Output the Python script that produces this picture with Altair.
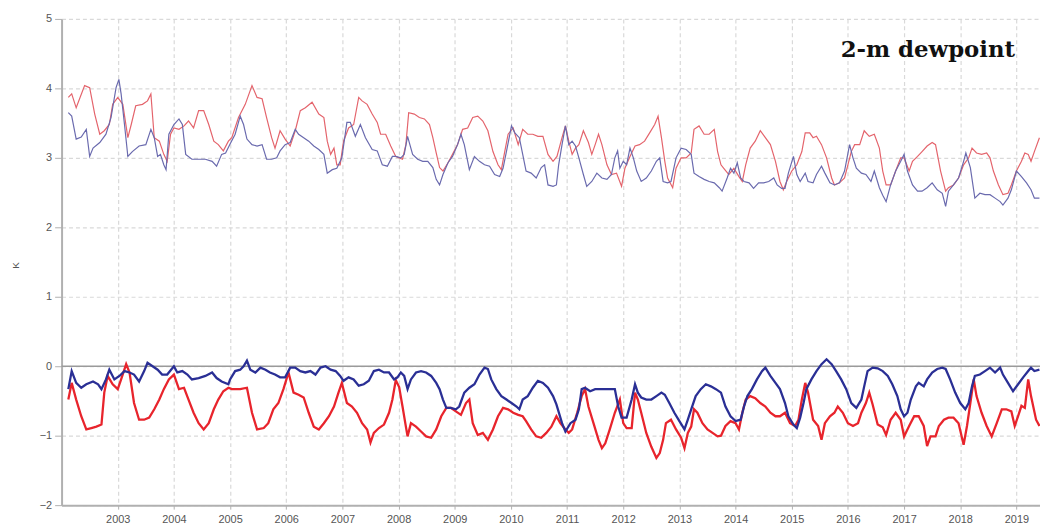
import altair as alt
import pandas as pd

# ---------------- data ----------------
year_ticks = list(range(2003, 2020))
y_ticks = [-2, -1, 0, 1, 2, 3, 4, 5]
title_text = ["2-m dewpoint"]

upper_red = [
    (2002.12, 3.87), (2002.18, 3.92), (2002.26, 3.72), (2002.41, 4.04), (2002.50, 4.01),
    (2002.59, 3.63), (2002.68, 3.34), (2002.76, 3.39), (2002.85, 3.48), (2002.91, 3.77),
    (2003.00, 3.87), (2003.09, 3.77), (2003.18, 3.29), (2003.24, 3.48), (2003.32, 3.75),
    (2003.44, 3.77), (2003.53, 3.82), (2003.59, 3.92), (2003.65, 3.29), (2003.74, 3.24),
    (2003.82, 3.05), (2003.88, 2.95), (2003.94, 3.34), (2004.00, 3.43), (2004.09, 3.41),
    (2004.18, 3.46), (2004.26, 3.53), (2004.35, 3.43), (2004.44, 3.68), (2004.53, 3.68),
    (2004.62, 3.48), (2004.71, 3.24), (2004.79, 3.19), (2004.88, 3.10), (2004.97, 3.24),
    (2005.03, 3.29), (2005.15, 3.58), (2005.27, 3.77), (2005.39, 4.04), (2005.48, 3.87),
    (2005.57, 3.85), (2005.65, 3.58), (2005.74, 3.29), (2005.80, 3.14), (2005.89, 3.39),
    (2005.98, 3.27), (2006.07, 3.17), (2006.16, 3.39), (2006.25, 3.68), (2006.34, 3.72),
    (2006.46, 3.80), (2006.58, 3.63), (2006.67, 3.58), (2006.73, 3.24), (2006.79, 3.05),
    (2006.85, 3.14), (2006.90, 2.90), (2006.96, 2.90), (2007.02, 3.24), (2007.11, 3.43),
    (2007.20, 3.48), (2007.29, 3.87), (2007.35, 3.82), (2007.44, 3.77), (2007.53, 3.63),
    (2007.62, 3.51), (2007.68, 3.34), (2007.77, 3.34), (2007.86, 3.17), (2007.95, 3.02),
    (2008.07, 2.98), (2008.13, 3.19), (2008.18, 3.65), (2008.28, 3.63), (2008.37, 3.58),
    (2008.46, 3.56), (2008.55, 3.48), (2008.61, 3.29), (2008.67, 3.07), (2008.73, 2.86),
    (2008.79, 2.81), (2008.88, 2.93), (2008.96, 3.05), (2009.05, 3.19), (2009.14, 3.41),
    (2009.23, 3.43), (2009.32, 3.58), (2009.41, 3.60), (2009.50, 3.53), (2009.59, 3.39),
    (2009.68, 3.09), (2009.77, 2.90), (2009.83, 2.83), (2009.89, 3.09), (2009.95, 3.34),
    (2010.04, 3.43), (2010.13, 3.19), (2010.21, 3.41), (2010.30, 3.34), (2010.39, 3.34),
    (2010.48, 3.31), (2010.57, 3.31), (2010.66, 3.05), (2010.75, 2.95), (2010.82, 3.02),
    (2010.91, 3.29), (2010.97, 3.46), (2011.03, 3.24), (2011.09, 3.05), (2011.15, 3.14),
    (2011.21, 3.19), (2011.29, 3.39), (2011.38, 3.22), (2011.44, 3.05), (2011.50, 3.19),
    (2011.56, 3.34), (2011.62, 3.19), (2011.71, 2.90), (2011.79, 2.76), (2011.88, 2.78),
    (2011.97, 2.59), (2012.03, 2.85), (2012.12, 3.02), (2012.21, 3.17), (2012.29, 3.19),
    (2012.38, 3.24), (2012.47, 3.36), (2012.56, 3.48), (2012.62, 3.60), (2012.68, 3.29),
    (2012.74, 2.95), (2012.79, 2.71), (2012.88, 2.57), (2012.94, 2.85), (2013.03, 3.00),
    (2013.12, 3.00), (2013.21, 3.07), (2013.26, 3.41), (2013.35, 3.46), (2013.44, 3.34),
    (2013.53, 3.34), (2013.62, 3.41), (2013.68, 3.09), (2013.74, 2.90), (2013.79, 2.85),
    (2013.88, 2.76), (2013.97, 2.85), (2014.06, 2.73), (2014.12, 2.66), (2014.18, 2.90),
    (2014.26, 3.14), (2014.35, 3.24), (2014.44, 3.39), (2014.53, 3.29), (2014.62, 3.19),
    (2014.71, 2.95), (2014.79, 2.66), (2014.85, 2.54), (2014.91, 2.66), (2015.00, 2.81),
    (2015.09, 2.90), (2015.18, 3.09), (2015.24, 3.36), (2015.32, 3.36), (2015.38, 3.29),
    (2015.44, 3.31), (2015.53, 3.19), (2015.62, 3.00), (2015.71, 2.71), (2015.76, 2.61),
    (2015.85, 2.64), (2015.94, 2.71), (2016.00, 2.90), (2016.06, 3.09), (2016.12, 3.19),
    (2016.21, 3.19), (2016.29, 3.39), (2016.38, 3.31), (2016.47, 3.34), (2016.56, 3.14),
    (2016.62, 2.81), (2016.68, 2.61), (2016.76, 2.61), (2016.85, 2.81), (2016.94, 3.00),
    (2017.00, 3.00), (2017.09, 2.81), (2017.15, 2.95), (2017.24, 3.02), (2017.32, 3.09),
    (2017.41, 3.17), (2017.50, 3.22), (2017.56, 3.19), (2017.65, 2.81), (2017.74, 2.52),
    (2017.79, 2.57), (2017.88, 2.61), (2017.97, 2.71), (2018.06, 2.90), (2018.15, 3.00),
    (2018.21, 3.14), (2018.29, 3.07), (2018.38, 3.05), (2018.47, 3.07), (2018.53, 3.00),
    (2018.59, 2.81), (2018.68, 2.61), (2018.76, 2.47), (2018.85, 2.49), (2018.91, 2.61),
    (2019.00, 2.81), (2019.09, 2.95), (2019.15, 3.07), (2019.21, 3.05), (2019.26, 2.95),
    (2019.32, 3.09), (2019.41, 3.29),
]

upper_blue = [
    (2002.12, 3.65), (2002.18, 3.60), (2002.26, 3.27), (2002.35, 3.30), (2002.44, 3.41),
    (2002.50, 3.02), (2002.56, 3.14), (2002.68, 3.22), (2002.79, 3.34), (2002.88, 3.58),
    (2002.97, 4.01), (2003.02, 4.13), (2003.06, 3.92), (2003.12, 3.48), (2003.18, 3.02),
    (2003.26, 3.09), (2003.38, 3.17), (2003.50, 3.19), (2003.59, 3.41), (2003.65, 3.29),
    (2003.71, 3.02), (2003.76, 3.05), (2003.82, 2.90), (2003.86, 2.83), (2003.91, 3.34),
    (2004.00, 3.48), (2004.09, 3.56), (2004.15, 3.48), (2004.21, 3.05), (2004.32, 2.98),
    (2004.44, 2.98), (2004.56, 2.98), (2004.68, 2.95), (2004.76, 2.88), (2004.85, 3.05),
    (2004.92, 3.07), (2005.00, 3.20), (2005.09, 3.34), (2005.18, 3.60), (2005.24, 3.48),
    (2005.30, 3.27), (2005.39, 3.19), (2005.48, 3.17), (2005.57, 3.19), (2005.65, 2.98),
    (2005.74, 2.98), (2005.83, 3.00), (2005.89, 3.10), (2005.98, 3.19), (2006.07, 3.22),
    (2006.16, 3.41), (2006.22, 3.34), (2006.31, 3.29), (2006.40, 3.24), (2006.49, 3.17),
    (2006.58, 3.12), (2006.67, 3.05), (2006.73, 2.78), (2006.82, 2.83), (2006.90, 2.85),
    (2006.99, 3.00), (2007.08, 3.51), (2007.14, 3.51), (2007.23, 3.31), (2007.32, 3.48),
    (2007.41, 3.29), (2007.53, 3.12), (2007.62, 3.10), (2007.71, 2.90), (2007.80, 2.88),
    (2007.89, 3.02), (2007.95, 3.02), (2008.04, 3.00), (2008.10, 3.05), (2008.16, 3.31),
    (2008.25, 3.05), (2008.34, 2.98), (2008.43, 2.95), (2008.52, 2.95), (2008.61, 2.86),
    (2008.67, 2.69), (2008.73, 2.61), (2008.79, 2.76), (2008.88, 2.93), (2008.96, 3.02),
    (2009.05, 3.19), (2009.11, 3.34), (2009.17, 3.19), (2009.26, 2.83), (2009.35, 3.02),
    (2009.44, 2.95), (2009.53, 2.90), (2009.62, 2.88), (2009.71, 2.76), (2009.80, 2.73),
    (2009.86, 2.85), (2009.92, 3.09), (2010.01, 3.46), (2010.07, 3.36), (2010.15, 3.29),
    (2010.21, 3.05), (2010.27, 2.81), (2010.36, 2.78), (2010.45, 2.71), (2010.54, 2.86),
    (2010.60, 2.90), (2010.66, 2.61), (2010.75, 2.59), (2010.81, 2.61), (2010.85, 2.90),
    (2010.91, 3.19), (2010.97, 3.46), (2011.03, 3.19), (2011.09, 3.24), (2011.15, 3.17),
    (2011.21, 3.00), (2011.29, 2.76), (2011.35, 2.59), (2011.44, 2.66), (2011.53, 2.78),
    (2011.62, 2.71), (2011.71, 2.69), (2011.79, 2.76), (2011.85, 3.00), (2011.90, 3.10),
    (2011.94, 2.85), (2012.00, 2.95), (2012.06, 2.90), (2012.12, 3.14), (2012.18, 3.00),
    (2012.24, 2.81), (2012.32, 2.66), (2012.41, 2.71), (2012.50, 2.81), (2012.59, 2.95),
    (2012.65, 3.00), (2012.71, 2.66), (2012.79, 2.64), (2012.85, 2.66), (2012.94, 3.00),
    (2013.03, 3.14), (2013.12, 3.12), (2013.21, 3.05), (2013.26, 2.78), (2013.35, 2.73),
    (2013.44, 2.69), (2013.53, 2.66), (2013.62, 2.64), (2013.71, 2.57), (2013.76, 2.52),
    (2013.85, 2.71), (2013.91, 2.85), (2013.97, 2.78), (2014.03, 2.93), (2014.09, 2.71),
    (2014.15, 2.66), (2014.24, 2.64), (2014.32, 2.56), (2014.41, 2.64), (2014.50, 2.64),
    (2014.59, 2.66), (2014.68, 2.71), (2014.74, 2.61), (2014.82, 2.56), (2014.88, 2.56),
    (2014.94, 2.78), (2015.03, 3.02), (2015.09, 2.76), (2015.15, 2.66), (2015.24, 2.78),
    (2015.29, 2.66), (2015.38, 2.64), (2015.44, 2.76), (2015.53, 2.88), (2015.59, 2.78),
    (2015.68, 2.64), (2015.76, 2.61), (2015.85, 2.64), (2015.94, 2.81), (2016.03, 3.19),
    (2016.09, 3.00), (2016.15, 2.85), (2016.24, 2.78), (2016.32, 2.76), (2016.41, 2.66),
    (2016.47, 2.81), (2016.56, 2.57), (2016.62, 2.46), (2016.68, 2.37), (2016.76, 2.61),
    (2016.85, 2.81), (2016.94, 2.95), (2017.00, 3.05), (2017.06, 2.81), (2017.15, 2.61),
    (2017.24, 2.52), (2017.32, 2.52), (2017.41, 2.57), (2017.50, 2.64), (2017.59, 2.54),
    (2017.68, 2.49), (2017.74, 2.30), (2017.79, 2.52), (2017.88, 2.61), (2017.97, 2.71),
    (2018.06, 2.95), (2018.10, 3.07), (2018.18, 2.86), (2018.26, 2.42), (2018.35, 2.49),
    (2018.44, 2.47), (2018.53, 2.47), (2018.62, 2.42), (2018.71, 2.37), (2018.76, 2.32),
    (2018.85, 2.42), (2018.91, 2.54), (2019.00, 2.81), (2019.09, 2.73), (2019.18, 2.64),
    (2019.26, 2.54), (2019.32, 2.42), (2019.41, 2.42),
]

lower_red = [
    (2002.12, -0.48), (2002.18, -0.24), (2002.26, -0.48), (2002.35, -0.72), (2002.44, -0.91),
    (2002.53, -0.89), (2002.62, -0.87), (2002.71, -0.84), (2002.76, -0.38), (2002.82, -0.14),
    (2002.91, -0.26), (2003.00, -0.33), (2003.06, -0.19), (2003.15, 0.03), (2003.21, -0.09),
    (2003.29, -0.53), (2003.38, -0.77), (2003.47, -0.77), (2003.56, -0.74), (2003.65, -0.62),
    (2003.74, -0.48), (2003.82, -0.33), (2003.91, -0.19), (2004.00, -0.12), (2004.09, -0.33),
    (2004.18, -0.31), (2004.26, -0.48), (2004.35, -0.67), (2004.44, -0.82), (2004.53, -0.91),
    (2004.62, -0.82), (2004.71, -0.62), (2004.79, -0.48), (2004.88, -0.36), (2004.97, -0.31),
    (2005.03, -0.33), (2005.18, -0.33), (2005.30, -0.31), (2005.39, -0.67), (2005.48, -0.91),
    (2005.60, -0.89), (2005.68, -0.82), (2005.77, -0.62), (2005.86, -0.53), (2005.95, -0.33),
    (2006.04, -0.09), (2006.13, -0.38), (2006.22, -0.41), (2006.31, -0.45), (2006.40, -0.67),
    (2006.49, -0.87), (2006.58, -0.91), (2006.67, -0.82), (2006.76, -0.72), (2006.85, -0.58),
    (2006.93, -0.38), (2006.99, -0.24), (2007.08, -0.53), (2007.17, -0.58), (2007.26, -0.67),
    (2007.35, -0.82), (2007.44, -0.91), (2007.50, -1.10), (2007.56, -0.96), (2007.65, -0.89),
    (2007.74, -0.84), (2007.83, -0.67), (2007.89, -0.48), (2007.95, -0.20), (2008.01, -0.30),
    (2008.07, -0.58), (2008.13, -0.87), (2008.16, -1.01), (2008.22, -0.82), (2008.31, -0.87),
    (2008.40, -0.94), (2008.49, -1.01), (2008.58, -1.03), (2008.67, -0.91), (2008.76, -0.72),
    (2008.85, -0.60), (2008.93, -0.60), (2009.02, -0.65), (2009.11, -0.70), (2009.20, -0.53),
    (2009.26, -0.48), (2009.32, -0.82), (2009.41, -0.99), (2009.50, -0.96), (2009.59, -1.06),
    (2009.68, -0.91), (2009.77, -0.72), (2009.86, -0.60), (2009.95, -0.62), (2010.04, -0.67),
    (2010.13, -0.70), (2010.21, -0.72), (2010.27, -0.79), (2010.36, -0.91), (2010.45, -1.01),
    (2010.54, -1.03), (2010.63, -0.96), (2010.72, -0.87), (2010.81, -0.72), (2010.88, -0.82),
    (2010.97, -0.91), (2011.03, -0.96), (2011.09, -0.91), (2011.18, -0.67), (2011.26, -0.43),
    (2011.32, -0.33), (2011.38, -0.58), (2011.47, -0.82), (2011.56, -1.06), (2011.62, -1.18),
    (2011.68, -1.11), (2011.76, -0.91), (2011.85, -0.67), (2011.94, -0.48), (2012.00, -0.82),
    (2012.06, -0.89), (2012.15, -0.89), (2012.21, -0.38), (2012.26, -0.48), (2012.32, -0.67),
    (2012.41, -0.96), (2012.50, -1.16), (2012.59, -1.32), (2012.65, -1.25), (2012.71, -1.06),
    (2012.76, -0.82), (2012.85, -0.77), (2012.94, -0.91), (2013.03, -1.03), (2013.09, -1.18),
    (2013.15, -0.96), (2013.21, -0.87), (2013.26, -0.62), (2013.32, -0.67), (2013.41, -0.82),
    (2013.50, -0.91), (2013.59, -0.96), (2013.68, -1.01), (2013.74, -1.00), (2013.82, -0.86),
    (2013.91, -0.79), (2014.00, -0.82), (2014.06, -0.91), (2014.12, -0.67), (2014.18, -0.48),
    (2014.26, -0.43), (2014.35, -0.46), (2014.44, -0.53), (2014.53, -0.58), (2014.62, -0.67),
    (2014.71, -0.72), (2014.79, -0.72), (2014.88, -0.67), (2014.97, -0.82), (2015.06, -0.86),
    (2015.12, -0.77), (2015.18, -0.48), (2015.24, -0.24), (2015.29, -0.38), (2015.38, -0.77),
    (2015.47, -0.86), (2015.53, -1.06), (2015.59, -0.82), (2015.68, -0.72), (2015.76, -0.67),
    (2015.82, -0.58), (2015.91, -0.67), (2016.00, -0.82), (2016.09, -0.86), (2016.18, -0.82),
    (2016.24, -0.67), (2016.32, -0.53), (2016.38, -0.38), (2016.44, -0.55), (2016.53, -0.84),
    (2016.62, -0.88), (2016.68, -0.99), (2016.76, -0.77), (2016.85, -0.67), (2016.94, -0.77),
    (2017.00, -1.01), (2017.09, -0.86), (2017.18, -0.72), (2017.26, -0.72), (2017.35, -0.86),
    (2017.41, -1.15), (2017.47, -1.01), (2017.56, -1.01), (2017.62, -0.86), (2017.71, -0.77),
    (2017.79, -0.74), (2017.88, -0.74), (2017.97, -0.82), (2018.06, -1.13), (2018.12, -0.86),
    (2018.18, -0.53), (2018.24, -0.19), (2018.29, -0.43), (2018.38, -0.67), (2018.47, -0.86),
    (2018.56, -1.01), (2018.65, -0.82), (2018.74, -0.62), (2018.82, -0.62), (2018.91, -0.65),
    (2018.97, -0.86), (2019.03, -0.72), (2019.09, -0.57), (2019.15, -0.60), (2019.21, -0.19),
    (2019.26, -0.43), (2019.35, -0.77), (2019.41, -0.86),
]

lower_blue = [
    (2002.12, -0.33), (2002.18, -0.07), (2002.26, -0.24), (2002.35, -0.31), (2002.44, -0.26),
    (2002.56, -0.22), (2002.65, -0.26), (2002.71, -0.33), (2002.79, -0.19), (2002.85, -0.05),
    (2002.94, -0.19), (2003.03, -0.14), (2003.12, -0.07), (2003.21, -0.09), (2003.29, -0.12),
    (2003.38, -0.22), (2003.47, -0.07), (2003.53, 0.05), (2003.62, 0.00), (2003.71, -0.05),
    (2003.79, -0.12), (2003.88, -0.12), (2004.00, 0.00), (2004.06, -0.09), (2004.15, -0.07),
    (2004.24, -0.12), (2004.32, -0.19), (2004.44, -0.17), (2004.56, -0.14), (2004.68, -0.09),
    (2004.76, -0.17), (2004.85, -0.22), (2004.97, -0.26), (2005.00, -0.19), (2005.09, -0.07),
    (2005.18, -0.05), (2005.24, 0.00), (2005.30, 0.08), (2005.36, -0.05), (2005.45, -0.09),
    (2005.54, -0.02), (2005.63, -0.05), (2005.71, -0.09), (2005.80, -0.12), (2005.89, -0.16),
    (2005.98, -0.16), (2006.07, -0.02), (2006.16, -0.02), (2006.25, -0.07), (2006.34, -0.09),
    (2006.43, -0.07), (2006.52, -0.12), (2006.61, -0.02), (2006.70, 0.00), (2006.79, -0.05),
    (2006.88, -0.07), (2006.96, -0.14), (2007.02, -0.21), (2007.11, -0.16), (2007.20, -0.19),
    (2007.29, -0.28), (2007.38, -0.26), (2007.47, -0.21), (2007.56, -0.07), (2007.65, -0.05),
    (2007.74, -0.09), (2007.83, -0.09), (2007.92, -0.19), (2007.98, -0.16), (2008.04, -0.09),
    (2008.10, -0.14), (2008.16, -0.33), (2008.22, -0.19), (2008.31, -0.09), (2008.40, -0.07),
    (2008.49, -0.09), (2008.58, -0.14), (2008.67, -0.24), (2008.73, -0.33), (2008.79, -0.48),
    (2008.85, -0.60), (2008.93, -0.60), (2009.02, -0.62), (2009.08, -0.58), (2009.17, -0.38),
    (2009.26, -0.31), (2009.35, -0.26), (2009.44, -0.12), (2009.53, -0.02), (2009.59, -0.04),
    (2009.65, -0.19), (2009.74, -0.33), (2009.83, -0.43), (2009.92, -0.48), (2010.01, -0.53),
    (2010.10, -0.58), (2010.15, -0.62), (2010.21, -0.48), (2010.30, -0.43), (2010.39, -0.31),
    (2010.48, -0.21), (2010.57, -0.24), (2010.66, -0.31), (2010.75, -0.43), (2010.81, -0.55),
    (2010.91, -0.82), (2010.97, -0.94), (2011.06, -0.82), (2011.15, -0.77), (2011.21, -0.62),
    (2011.26, -0.33), (2011.32, -0.31), (2011.41, -0.36), (2011.50, -0.33), (2011.59, -0.33),
    (2011.68, -0.33), (2011.76, -0.33), (2011.85, -0.33), (2011.91, -0.58), (2011.97, -0.74),
    (2012.06, -0.74), (2012.15, -0.48), (2012.21, -0.26), (2012.26, -0.38), (2012.32, -0.45),
    (2012.41, -0.48), (2012.50, -0.48), (2012.59, -0.43), (2012.68, -0.38), (2012.74, -0.41),
    (2012.82, -0.53), (2012.91, -0.67), (2013.00, -0.79), (2013.09, -0.91), (2013.15, -0.77),
    (2013.21, -0.62), (2013.29, -0.43), (2013.38, -0.33), (2013.47, -0.26), (2013.56, -0.29),
    (2013.65, -0.33), (2013.74, -0.38), (2013.82, -0.58), (2013.91, -0.72), (2014.00, -0.79),
    (2014.09, -0.77), (2014.15, -0.58), (2014.21, -0.43), (2014.29, -0.33), (2014.38, -0.19),
    (2014.47, -0.07), (2014.53, -0.02), (2014.62, -0.14), (2014.71, -0.24), (2014.79, -0.33),
    (2014.88, -0.53), (2014.94, -0.72), (2015.03, -0.84), (2015.09, -0.89), (2015.15, -0.74),
    (2015.21, -0.53), (2015.26, -0.33), (2015.35, -0.19), (2015.44, -0.07), (2015.53, 0.03),
    (2015.62, 0.10), (2015.71, 0.03), (2015.79, -0.07), (2015.88, -0.19), (2015.97, -0.33),
    (2016.06, -0.53), (2016.15, -0.60), (2016.24, -0.48), (2016.29, -0.29), (2016.35, -0.07),
    (2016.44, -0.02), (2016.53, -0.03), (2016.62, -0.07), (2016.71, -0.14), (2016.79, -0.26),
    (2016.88, -0.43), (2016.94, -0.62), (2017.00, -0.72), (2017.06, -0.67), (2017.12, -0.48),
    (2017.21, -0.29), (2017.26, -0.24), (2017.35, -0.29), (2017.41, -0.19), (2017.50, -0.09),
    (2017.59, -0.04), (2017.68, -0.02), (2017.74, -0.04), (2017.82, -0.19), (2017.91, -0.38),
    (2018.00, -0.53), (2018.09, -0.62), (2018.15, -0.53), (2018.21, -0.29), (2018.26, -0.14),
    (2018.35, -0.12), (2018.44, -0.07), (2018.53, -0.02), (2018.62, -0.09), (2018.71, -0.02),
    (2018.76, -0.12), (2018.85, -0.24), (2018.94, -0.36), (2019.03, -0.26), (2019.12, -0.16),
    (2019.21, -0.07), (2019.26, -0.02), (2019.32, -0.07), (2019.41, -0.05),
]


def frame(points):
    return pd.DataFrame(points, columns=["t", "v"])


x_scale = alt.Scale(domain=[2002.0, 2019.42], nice=False, zero=False)
y_scale = alt.Scale(domain=[-2, 5], nice=False, zero=False)

x_axis = alt.Axis(
    values=year_ticks, format="d", title=None,
    grid=True, gridColor="#d9d9d9", gridDash=[4, 3], gridWidth=1.2,
    domainColor="#b0b0b0", domainWidth=2, tickColor="#b0b0b0", tickSize=4,
    labelFontSize=11, labelColor="#555555", labelFont="Liberation Sans",
    labelPadding=4, labelFlush=False,
)
y_axis = alt.Axis(
    values=y_ticks, format="d", title="K",
    grid=True, gridColor="#d9d9d9", gridDash=[4, 3], gridWidth=1.2,
    domainColor="#b0b0b0", domainWidth=2, tickColor="#b0b0b0", tickSize=7,
    labelFontSize=11, labelColor="#555555", labelFont="Liberation Sans",
    labelPadding=3,
    titleFontSize=10, titleFontWeight="normal", titleColor="#555555",
    titleFont="Liberation Sans", titleAngle=270, titleBaseline="middle",
    titleAlign="center", titleX=-46, titleY=248,
)


def line(points, color, width):
    return alt.Chart(frame(points)).mark_line(
        color=color, strokeWidth=width, clip=True
    ).encode(
        x=alt.X("t:Q", scale=x_scale, axis=x_axis),
        y=alt.Y("v:Q", scale=y_scale, axis=y_axis),
        order="t:Q",
    )


zero_rule = alt.Chart(pd.DataFrame({"v": [0]})).mark_rule(
    color="#9a9a9a", strokeWidth=1.6
).encode(y=alt.Y("v:Q", scale=y_scale, axis=y_axis))

title_mark = alt.Chart(pd.DataFrame({"label": title_text})).mark_text(
    font="DejaVu Serif", fontWeight="bold", fontSize=23, color="#111111",
    align="center", baseline="middle",
).encode(x=alt.value(873), y=alt.value(31), text="label:N")

chart = alt.layer(
    line(upper_red, "#e4646c", 1.2),
    line(upper_blue, "#6a6aae", 1.2),
    zero_rule,
    line(lower_red, "#e8242c", 2.3),
    line(lower_blue, "#2a2f95", 2.3),
    title_mark,
).properties(
    width=986, height=490,
    autosize=alt.AutoSizeParams(type="none"),
    padding={"left": 54, "top": 9, "right": 0, "bottom": 17},
).configure_view(strokeWidth=0)

chart.save("out.html", embed_options={"renderer": "svg", "actions": False})
